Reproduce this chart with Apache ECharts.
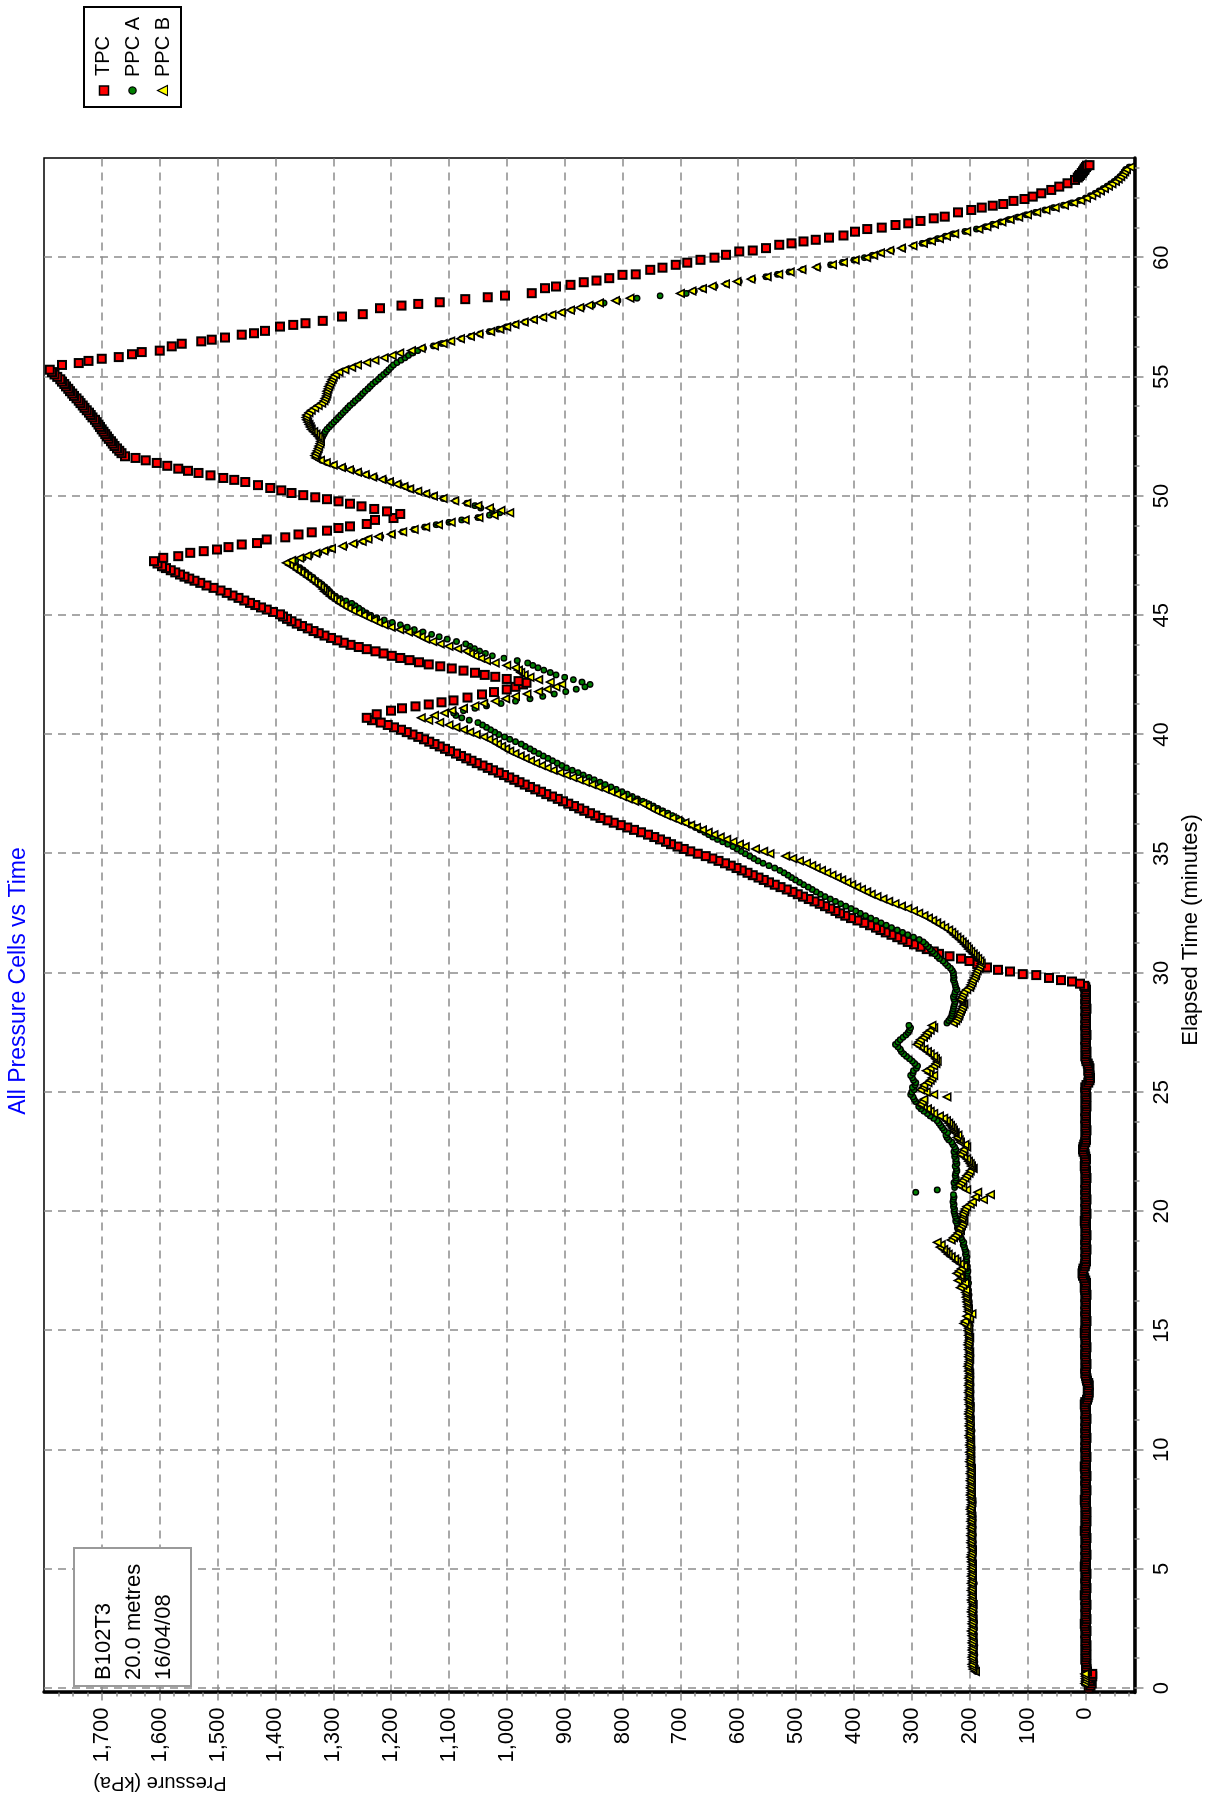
<!DOCTYPE html>
<html>
<head>
<meta charset="utf-8">
<title>All Pressure Cells vs Time</title>
<script src="https://cdn.jsdelivr.net/npm/echarts@6.0.0/dist/echarts.min.js"></script>
<style>
  html, body { margin: 0; padding: 0; background: #fff; width: 1212px; height: 1801px; overflow: hidden; }
  /* The plot is laid out landscape and turned a quarter-turn so that time runs upward. */
  #chart { position: absolute; left: 0; top: 0; width: 1801px; height: 1212px;
           transform-origin: 0 0; transform: translate(0, 1801px) rotate(-90deg); background: #fff; }
</style>
</head>
<body>
<div id="chart"></div>
<script>
// ---------------------------------------------------------------------------
// Test B102T3, 20.0 metres, 16/04/08 - cell pressures (kPa) against elapsed time
// ---------------------------------------------------------------------------

// Logger interval in minutes for the regularly sampled channels.
const LOG_STEP = 0.1;

// Axis tick values.
const timeTicks = [0, 5, 10, 15, 20, 25, 30, 35, 40, 45, 50, 55, 60];
const pressureTicks = [0, 100, 200, 300, 400, 500, 600, 700, 800, 900, 1000,
                       1100, 1200, 1300, 1400, 1500, 1600, 1700];

// TPC, logged every 0.1 min from 0.0 to 29.4 min (kPa).
const tpcLevelKPa = [
  -6,-9,-11,-8,-5,-12,-12,-3,-2,-1,
  -2,-1,0,-1,-2,-1,0,-1,-2,-1,
  0,-1,-1,0,-2,-1,0,1,-1,-2,
  -1,0,-1,-1,0,-2,-1,0,-1,1,
  0,-1,-2,-1,0,-1,0,-1,-2,-1,
  0,1,0,-1,-1,0,-2,-1,0,-1,
  -1,0,-1,-2,-1,0,1,-1,0,-1,
  -2,-1,0,-1,-2,-1,0,-1,0,1,
  -1,0,-1,-2,-1,0,-1,0,-1,-2,
  0,-1,0,1,-1,0,-1,-2,-1,0,
  -1,0,-1,-1,0,-2,-1,0,-1,0,
  -1,-1,0,-2,-1,0,-1,-1,0,1,
  0,-3,-4,-5,-6,-5,-4,-6,-5,-3,
  -2,-1,0,-1,0,-1,-2,-1,0,-1,
  0,-1,0,-2,-1,0,-1,-1,0,1,
  0,-1,0,-1,-2,-1,0,-1,0,-1,
  -1,0,-1,-1,0,-2,-1,0,1,0,
  -1,0,2,4,5,4,3,1,0,-1,
  0,-1,-1,0,-2,-1,0,-1,0,-1,
  -2,-1,0,-1,-1,0,1,0,-1,-2,
  -1,0,-1,-1,0,-2,-1,0,-1,0,
  -1,-1,0,-1,-2,-1,0,-1,0,1,
  0,0,-1,0,1,3,4,3,2,0,
  -1,-1,0,-1,-2,-1,0,-1,-1,0,
  -1,-1,0,-1,-2,-1,0,-1,-2,-1,
  0,-1,0,-2,-5,-7,-8,-7,-6,-5,
  -7,-6,-4,-2,-1,0,-1,-2,-1,0,
  -1,-1,0,-1,-2,-1,0,-1,0,-1,
  -1,0,-1,-1,0,-2,-1,0,-1,0,
  -1,-1,0,-1,0
];

// TPC from the start of loading onward: [minute, kPa].
const tpcRunKPa = [
  [29.46,2],[29.55,9],[29.64,23],[29.70,42],[29.79,63],[29.91,85],[29.95,108],[30.06,130],[30.13,151],[30.23,170],[30.37,187],
  [30.5,200],[30.6,215],[30.7,235],[30.8,253],[30.9,262],
  [31.0,274],[31.1,285],[31.2,296],[31.3,307],[31.4,316],[31.5,325],[31.6,335],[31.7,345],[31.8,354],[31.9,362],
  [32.0,372],[32.1,382],[32.2,394],[32.3,405],[32.4,415],[32.5,424],[32.6,432],[32.7,441],[32.8,450],[32.9,459],
  [33.0,468],[33.1,478],[33.2,488],[33.3,497],[33.4,506],[33.5,516],[33.6,527],[33.7,537],[33.8,547],[33.9,556],
  [34.0,565],[34.1,575],[34.2,584],[34.3,594],[34.4,603],[34.5,613],[34.6,623],[34.7,634],[34.8,645],[34.9,656],
  [35.0,670],[35.1,683],[35.2,694],[35.3,705],[35.4,716],[35.5,725],[35.6,735],[35.7,745],[35.8,756],[35.9,768],
  [36.0,780],[36.1,792],[36.2,803],[36.3,815],[36.4,826],[36.5,838],[36.6,847],[36.7,856],[36.8,866],[36.9,875],
  [37.0,884],[37.1,894],[37.2,903],[37.3,912],[37.4,922],[37.5,932],[37.6,941],[37.7,951],[37.8,960],[37.9,969],
  [38.0,978],[38.1,987],[38.2,996],[38.3,1005],[38.4,1014],[38.5,1024],[38.6,1033],[38.7,1042],[38.8,1052],[38.9,1061],
  [39.0,1070],[39.1,1079],[39.2,1088],[39.3,1098],[39.4,1107],[39.5,1116],[39.6,1125],[39.7,1134],[39.8,1143],[39.9,1153],
  [40.0,1163],[40.1,1173],[40.2,1183],[40.3,1195],[40.4,1206],[40.5,1218],[40.6,1233],[40.7,1242],
  [40.85,1225],[41.0,1200],[41.1,1181],[41.18,1158],[41.26,1135],[41.35,1113],[41.43,1092],[41.55,1068],[41.68,1043],
  [41.78,1022],[41.89,1000],[42.0,985],[42.1,972],[42.17,966],
  [42.24,980],[42.33,1000],[42.42,1020],[42.5,1038],[42.59,1055],[42.68,1075],[42.77,1095],[42.86,1115],[42.94,1135],
  [43.03,1152],[43.12,1168],[43.21,1184],[43.3,1199],[43.4,1213],[43.49,1227],[43.58,1242],[43.67,1256],[43.76,1270],
  [43.85,1282],[43.95,1293],[44.05,1304],[44.15,1315],[44.25,1325],[44.34,1334],[44.45,1344],[44.55,1354],[44.65,1363],
  [44.75,1372],[44.85,1380],[44.95,1387],[45.04,1392],[45.14,1404],[45.24,1415],[45.33,1425],[45.43,1435],[45.52,1444],
  [45.62,1454],[45.73,1464],[45.83,1474],[45.94,1484],[46.04,1495],[46.15,1507],[46.25,1519],[46.36,1530],[46.45,1540],
  [46.54,1549],[46.62,1557],[46.71,1565],[46.8,1573],[46.89,1581],[46.98,1589],[47.06,1596],[47.17,1604],[47.27,1610],
  [47.41,1594],[47.48,1568],[47.62,1547],[47.69,1524],[47.76,1501],[47.86,1481],[47.97,1458],[48.03,1432],[48.18,1415],
  [48.27,1383],[48.39,1360],[48.48,1337],[48.55,1311],[48.66,1291],[48.73,1271],[48.83,1242],[49.0,1228],[49.08,1196],[49.25,1184],
  [49.36,1207],[49.46,1229],[49.57,1251],[49.68,1271],[49.78,1291],[49.87,1311],[49.95,1331],[50.04,1352],[50.13,1372],
  [50.24,1390],[50.34,1409],[50.46,1430],[50.59,1452],[50.68,1471],[50.76,1490],[50.87,1512],[50.97,1533],[51.06,1551],
  [51.15,1568],[51.27,1587],[51.39,1605],[51.5,1624],[51.6,1642],[51.67,1660],
  [51.8,1666],[51.9,1670],[52.0,1674],[52.1,1678],[52.2,1681],[52.3,1684],[52.4,1688],[52.5,1691],[52.6,1694],[52.7,1697],
  [52.8,1700],[52.9,1703],[53.0,1706],[53.1,1709],[53.2,1712],[53.3,1716],[53.4,1719],[53.5,1722],[53.6,1726],[53.7,1730],
  [53.8,1733],[53.9,1737],[54.0,1740],[54.1,1744],[54.2,1748],[54.3,1751],[54.4,1755],[54.5,1758],[54.6,1762],[54.7,1765],
  [54.8,1769],[54.9,1772],[55.0,1777],[55.1,1782],[55.2,1786],[55.3,1790],
  [55.5,1769],[55.58,1740],[55.67,1723],[55.76,1700],[55.83,1671],[55.95,1648],[56.04,1631],[56.1,1600],[56.28,1579],
  [56.39,1562],[56.49,1528],[56.56,1510],[56.65,1487],[56.77,1458],[56.83,1437],[56.93,1418],[57.11,1392],[57.18,1369],
  [57.25,1348],[57.35,1318],[57.53,1285],[57.63,1249],[57.88,1219],[57.99,1182],[58.06,1153],[58.13,1116],[58.26,1072],
  [58.34,1033],[58.41,1003],[58.51,957],[58.72,934],[58.79,915],[58.86,890],[58.97,867],[59.04,845],[59.14,823],
  [59.28,800],[59.3,777],[59.49,752],[59.58,731],[59.7,708],[59.79,688],[59.91,665],[60.0,641],[60.12,621],[60.26,598],
  [60.3,575],[60.4,552],[60.54,529],[60.6,508],[60.68,487],[60.75,466],[60.84,443],[60.93,418],[61.09,398],[61.2,377],
  [61.26,352],[61.37,328],[61.44,306],[61.54,285],[61.65,262],[61.72,243],[61.9,220],[62.0,197],[62.1,179],[62.18,160],
  [62.25,142],[62.38,124],[62.46,105],[62.56,91],[62.7,76],[62.84,59],[62.98,45],[63.12,31],[63.26,18],[63.36,13],
  [63.42,11],[63.47,9],[63.55,6],[63.62,4],[63.68,2],[63.74,1],[63.8,-1],[63.86,-3],[63.88,-7]
];

// PPC A, logged every 0.1 min from 0.0 min (kPa); null = no reading.
const ppcAKPa = [
  null,null,2,1,1,0,2,188,191,190,
  192,191,192,193,191,192,193,192,191,193,
  192,193,194,192,193,192,194,193,192,193,
  194,193,192,194,193,195,194,193,194,193,
  194,195,193,194,192,194,195,194,193,195,
  194,193,195,194,196,195,194,195,193,194,
  195,194,196,195,194,196,195,197,196,195,
  196,195,194,196,195,197,196,195,194,196,
  195,196,197,195,196,197,196,195,197,196,
  197,196,195,197,196,198,197,196,197,198,
  197,196,198,197,199,198,197,198,196,198,
  198,197,199,198,197,199,198,200,199,198,
  199,198,200,199,198,200,199,198,200,199,
  200,199,198,200,199,201,200,199,200,201,
  200,199,201,200,199,201,200,202,201,200,
  201,200,199,201,200,202,201,200,202,201,
  200,202,201,203,202,201,203,202,204,203,
  202,204,203,205,204,203,205,204,206,205,
  206,205,207,206,208,209,211,210,213,215,
  217,216,219,221,220,222,224,222,225,226,
  227,226,228,227,229,228,227,228,293,256,
  226,225,227,224,223,225,224,222,223,225,
  222,224,223,226,225,227,224,226,229,231,
  236,239,241,238,244,247,250,253,256,262,
  268,273,279,284,288,285,293,296,298,302,
  300,296,299,294,293,297,299,302,298,297,
  292,290,295,299,304,309,314,318,320,324,
  328,324,320,315,310,306,304,302,305,239,
  236,233,231,230,229,228,227,226,225,227,
  228,226,225,222,224,225,226,228,227,228,
  228,230,233,238,242,246,252,256,260,264,
  268,272,276,280,287,297,307,316,325,335,
  344,353,362,371,380,389,397,405,414,423,
  432,441,450,458,465,472,479,487,494,501,
  508,514,521,528,537,547,557,566,573,580,
  588,595,602,609,618,627,636,644,651,658,
  666,674,682,690,698,706,714,722,731,739,
  747,756,765,774,783,792,801,811,820,830,
  839,849,858,868,877,887,897,905,913,921,
  929,937,945,953,960,968,975,985,995,1004,
  1014,1021,1028,1035,1042,1050,1065,1078,1088,1092,
  1075,1055,1035,1010,985,960,938,918,898,880,
  865,856,870,885,900,915,925,936,946,955,
  964,982,1005,1025,1037,1047,1056,1064,1071,1087,
  1103,1117,1130,1145,1160,1172,1184,1198,1212,1225,
  1235,1243,1250,1256,1262,1268,1278,1288,1296,1302,
  1306,1310,1315,1320,1326,1332,1336,1342,1347,1352,
  1358,1365,1372,1365,1352,1340,1325,1312,1302,1280,
  1262,1248,1238,1218,1198,1180,1160,1142,1122,1100,
  1078,1050,1030,1012,1025,1045,1055,1069,1088,1110,
  1125,1138,1152,1166,1175,1186,1200,1212,1228,1242,
  1255,1268,1282,1298,1310,1320,1326,1328,1326,1325,
  1324,1323,1322,1321,1320,1318,1316,1314,1311,1307,
  1303,1299,1295,1291,1287,1283,1279,1275,1271,1266,
  1262,1257,1253,1249,1245,1240,1236,1232,1227,1222,
  1218,1213,1208,1204,1200,1196,1190,1183,1176,1170,
  1163,1154,1144,1127,1112,1095,1078,1062,1046,1030,
  1014,1000,984,968,952,936,920,903,887,870,
  852,832,808,775,735,690,676,660,640,620,
  598,575,552,532,512,488,462,440,420,400,
  382,368,352,335,315,296,282,268,255,242,
  228,208,188,172,160,146,132,117,102,86,
  70,55,38,23,10,0,-9,-17,-24,-31,
  -38,-44,-50,-55,-60,-64,-67,-70,-76
];

// PPC B, logged every 0.1 min from 0.0 min (kPa); null = no reading.
const ppcBKPa = [
  null,null,1,0,0,0,1,190,194,195,
  196,194,195,196,195,194,196,195,194,196,
  195,194,196,195,197,195,194,196,195,194,
  196,195,197,196,195,194,196,197,195,196,
  195,197,196,195,197,196,195,197,196,195,
  197,196,195,197,196,198,197,196,195,197,
  196,198,197,196,198,197,196,198,197,196,
  198,197,196,198,197,199,198,197,196,198,
  197,199,198,197,199,198,197,199,198,197,
  199,198,197,199,198,200,199,198,199,200,
  198,199,200,199,198,200,201,199,200,199,
  201,200,199,201,200,202,201,200,199,201,
  200,202,201,200,202,201,200,202,201,200,
  202,201,200,202,201,203,202,201,200,202,
  201,200,202,201,203,202,201,200,202,201,
  203,202,204,210,208,200,205,196,203,202,
  204,203,205,204,206,205,207,206,216,212,
  208,220,214,216,222,218,214,210,216,222,
  226,232,237,241,245,251,249,256,232,228,
  224,220,216,218,214,212,210,213,211,212,
  209,208,205,199,195,176,190,164,186,205,
  212,219,215,212,208,205,201,199,194,197,
  199,202,205,210,216,212,210,205,208,216,
  218,222,220,225,228,230,233,236,240,245,
  252,262,268,273,280,285,282,279,239,262,
  275,285,280,279,272,268,265,262,270,275,
  268,262,258,256,259,262,268,273,279,285,
  291,288,285,280,276,273,268,262,265,228,
  224,221,219,218,216,214,212,210,213,216,
  214,212,210,205,200,198,196,195,192,190,
  189,187,184,182,180,182,186,190,194,198,
  202,205,209,213,217,222,227,231,236,243,
  250,257,264,271,279,288,297,307,318,329,
  340,350,360,370,378,387,395,404,412,421,
  429,438,447,456,465,473,482,494,506,518,
  545,556,570,588,598,609,620,631,642,652,
  662,672,682,692,704,714,724,733,742,750,
  757,765,779,790,800,810,820,830,842,853,
  864,875,886,897,908,920,930,940,950,959,
  968,977,986,995,1002,1009,1016,1023,1031,1040,
  1053,1064,1075,1088,1100,1116,1135,1148,1125,1108,
  1095,1075,1055,1040,1020,1002,985,965,945,930,
  915,905,925,945,960,970,976,980,985,1000,
  1020,1035,1045,1055,1063,1070,1085,1100,1115,1128,
  1140,1148,1156,1170,1185,1200,1212,1222,1230,1240,
  1248,1257,1266,1274,1281,1288,1294,1300,1305,1310,
  1315,1318,1322,1327,1333,1338,1344,1350,1356,1362,
  1368,1375,1381,1372,1358,1345,1330,1316,1303,1284,
  1266,1250,1240,1222,1200,1180,1160,1140,1118,1096,
  1072,1048,1022,995,1010,1030,1050,1069,1090,1110,
  1127,1140,1154,1168,1178,1190,1203,1216,1232,1245,
  1258,1272,1286,1300,1312,1322,1330,1332,1330,1328,
  1326,1325,1323,1322,1323,1326,1330,1334,1338,1340,
  1342,1344,1346,1347,1346,1342,1338,1332,1326,1320,
  1316,1314,1312,1311,1311,1309,1308,1306,1304,1302,
  1300,1296,1290,1280,1268,1258,1242,1228,1212,1198,
  1185,1165,1148,1125,1110,1097,1080,1063,1048,1028,
  1012,1000,986,970,954,938,922,906,890,874,
  858,840,812,787,null,700,680,662,645,622,
  602,578,550,530,510,490,465,437,418,398,
  378,366,354,338,318,298,280,266,252,240,
  226,205,184,170,157,144,130,115,100,84,
  68,52,36,20,8,-2,-11,-19,-26,-33,
  -40,-46,-52,-57,-61,-65,-68,-71,-78
];

// ---------------------------------------------------------------------------
// Chart construction
// ---------------------------------------------------------------------------
const TIME_RANGE = [-0.18, 64.18];      // minutes
const PRESSURE_RANGE = [-85, 1800];     // kPa
const FONT = '"Liberation Sans", Arial, Helvetica, sans-serif';
const GRID_GREY = '#8c8c8c';

// Turn a regularly logged channel into [minute, kPa] points.
function sampled(values, step) {
  const pts = [];
  values.forEach((v, i) => {
    if (v !== null) pts.push([Math.round(i * step * 100) / 100, v]);
  });
  return pts;
}

// Minor tick values between the labelled ones.
function minorTicks(major, parts, lo, hi) {
  const step = (major[1] - major[0]) / parts;
  const out = [];
  for (let k = Math.ceil((lo - major[0]) / step); major[0] + k * step < hi; k++) {
    const v = Math.round((major[0] + k * step) * 1000) / 1000;
    if (major.indexOf(v) < 0) out.push(v);
  }
  return out;
}

const formatKPa = v => v >= 1000
  ? Math.floor(v / 1000) + ',' + String(v % 1000).padStart(3, '0')
  : String(v);

const tpcPoints = sampled(tpcLevelKPa, LOG_STEP).concat(tpcRunKPa);
const ppcAPoints = sampled(ppcAKPa, LOG_STEP);
const ppcBPoints = sampled(ppcBKPa, LOG_STEP);

const gridLine = { show: true, lineStyle: { color: GRID_GREY, width: 1.5, type: [8, 6] } };
const tickStyle = { color: GRID_GREY, width: 1.5 };

const chart = echarts.init(document.getElementById('chart'), null, {
  renderer: 'canvas', width: 1801, height: 1212
});

chart.setOption({
  animation: false,
  backgroundColor: '#fff',
  textStyle: { fontFamily: FONT },
  grid: {
    left: 108.5, top: 44, width: 1534.5, height: 1090.5,
    show: true, borderColor: '#000', borderWidth: 1.5, backgroundColor: 'transparent',
    containLabel: false, outerBoundsMode: 'none'
  },
  xAxis: [
    {
      type: 'value', position: 'bottom',
      min: TIME_RANGE[0], max: TIME_RANGE[1], minInterval: 5, maxInterval: 5,
      axisLine: { show: true, onZero: false, lineStyle: { color: '#000', width: 3.5 } },
      axisTick: { show: true, customValues: timeTicks, length: 9, lineStyle: tickStyle },
      axisLabel: { show: true, customValues: timeTicks, fontSize: 22, color: '#000',
                   fontFamily: FONT, margin: 16 },
      splitLine: gridLine
    },
    {
      type: 'value', position: 'bottom',
      min: TIME_RANGE[0], max: TIME_RANGE[1],
      axisLine: { show: false, onZero: false },
      axisTick: { show: true, customValues: minorTicks(timeTicks, 4, TIME_RANGE[0], TIME_RANGE[1]),
                  length: 5, lineStyle: tickStyle },
      axisLabel: { show: false },
      splitLine: { show: false }
    }
  ],
  yAxis: [
    {
      type: 'value', position: 'left',
      min: PRESSURE_RANGE[0], max: PRESSURE_RANGE[1], minInterval: 100, maxInterval: 100,
      axisLine: { show: true, onZero: false, lineStyle: { color: '#000', width: 3.5 } },
      axisTick: { show: true, customValues: pressureTicks, length: 8, lineStyle: tickStyle },
      axisLabel: { show: true, customValues: pressureTicks, fontSize: 22, color: '#000',
                   fontFamily: FONT, margin: 15, formatter: formatKPa },
      splitLine: gridLine
    },
    {
      type: 'value', position: 'left',
      min: PRESSURE_RANGE[0], max: PRESSURE_RANGE[1],
      axisLine: { show: false, onZero: false },
      axisTick: { show: true, customValues: minorTicks(pressureTicks, 4, PRESSURE_RANGE[0], PRESSURE_RANGE[1]),
                  length: 4, lineStyle: tickStyle },
      axisLabel: { show: false },
      splitLine: { show: false }
    }
  ],
  series: [
    {
      name: 'TPC', type: 'scatter', xAxisIndex: 0, yAxisIndex: 0, data: tpcPoints,
      symbol: 'rect', symbolSize: 8, silent: true,
      itemStyle: { color: '#ff0000', borderColor: '#000', borderWidth: 2, opacity: 1 },
      emphasis: { disabled: true }
    },
    {
      name: 'PPC A', type: 'scatter', xAxisIndex: 0, yAxisIndex: 0, data: ppcAPoints,
      symbol: 'circle', symbolSize: 5.5, silent: true,
      itemStyle: { color: '#008000', borderColor: '#000', borderWidth: 1.4, opacity: 1 },
      emphasis: { disabled: true }
    },
    {
      name: 'PPC B', type: 'scatter', xAxisIndex: 0, yAxisIndex: 0, data: ppcBPoints,
      symbol: 'triangle', symbolSize: 7.5, silent: true,
      itemStyle: { color: '#ffff00', borderColor: '#000', borderWidth: 1.6, opacity: 1 },
      emphasis: { disabled: true }
    }
  ],
  graphic: [
    // title
    { type: 'text', z: 100, style: {
        text: 'All Pressure Cells vs Time', x: 820, y: 18.5, font: '23px ' + FONT, fill: '#0000ff',
        textAlign: 'center', textVerticalAlign: 'middle' } },
    // axis names
    { type: 'text', z: 100, style: {
        text: 'Elapsed Time (minutes)', x: 871, y: 1191, font: '22px ' + FONT, fill: '#000',
        textAlign: 'center', textVerticalAlign: 'middle' } },
    { type: 'text', z: 100, x: 18, y: 160, rotation: Math.PI / 2, style: {
        text: 'Pressure (kPa)', x: 0, y: 0, font: '20px ' + FONT, fill: '#000',
        textAlign: 'center', textVerticalAlign: 'middle' } },
    // test note
    { type: 'rect', z: 100, shape: { x: 115, y: 74, width: 138, height: 117 },
      style: { fill: '#fff', stroke: '#9a9a9a', lineWidth: 2 } },
    { type: 'text', z: 101, style: { text: 'B102T3', x: 121, y: 103.5, font: '22px ' + FONT,
        fill: '#000', textAlign: 'left', textVerticalAlign: 'middle' } },
    { type: 'text', z: 101, style: { text: '20.0 metres', x: 121, y: 133.5, font: '22px ' + FONT,
        fill: '#000', textAlign: 'left', textVerticalAlign: 'middle' } },
    { type: 'text', z: 101, style: { text: '16/04/08', x: 121, y: 163.5, font: '22px ' + FONT,
        fill: '#000', textAlign: 'left', textVerticalAlign: 'middle' } },
    // legend
    { type: 'rect', z: 100, shape: { x: 1694, y: 84, width: 100, height: 97 },
      style: { fill: '#fff', stroke: '#000', lineWidth: 2 } },
    { type: 'rect', z: 101, shape: { x: 1706, y: 99.5, width: 9, height: 9 },
      style: { fill: '#ff0000', stroke: '#000', lineWidth: 1.5 } },
    { type: 'circle', z: 101, shape: { cx: 1710.5, cy: 132.5, r: 3.6 },
      style: { fill: '#008000', stroke: '#000', lineWidth: 1.2 } },
    { type: 'polygon', z: 101, shape: { points: [[1710.5, 157.5], [1715.5, 167.5], [1705.5, 167.5]] },
      style: { fill: '#ffff00', stroke: '#000', lineWidth: 1.2 } },
    { type: 'text', z: 101, style: { text: 'TPC', x: 1725, y: 103, font: '20px ' + FONT,
        fill: '#000', textAlign: 'left', textVerticalAlign: 'middle' } },
    { type: 'text', z: 101, style: { text: 'PPC A', x: 1724, y: 133, font: '20px ' + FONT,
        fill: '#000', textAlign: 'left', textVerticalAlign: 'middle' } },
    { type: 'text', z: 101, style: { text: 'PPC B', x: 1724, y: 163, font: '20px ' + FONT,
        fill: '#000', textAlign: 'left', textVerticalAlign: 'middle' } }
  ]
});
</script>
</body>
</html>
